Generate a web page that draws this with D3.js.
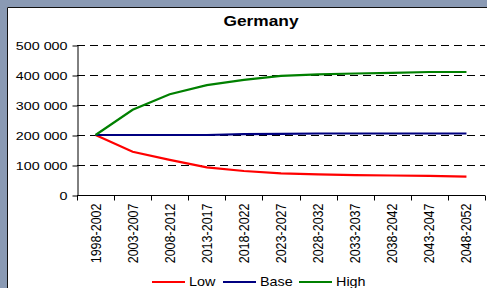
<!DOCTYPE html>
<html>
<head>
<meta charset="utf-8">
<script src="https://cdn.jsdelivr.net/npm/d3@7"></script>
<style>
  body { margin: 0; background: #8a9ab4; }
  svg { display: block; font-family: "Liberation Sans", Arial, sans-serif; }
</style>
</head>
<body>
<div id="chart"></div>
<script>
// periods on the x axis
var periods = ["1998-2002", "2003-2007", "2008-2012", "2013-2017", "2018-2022", "2023-2027",
    "2028-2032", "2033-2037", "2038-2042", "2043-2047", "2048-2052"];
var lowValues = [200000, 144000, 117000, 92000, 80000, 72000, 69000, 66000, 65000, 64000, 61000];
var baseValues = [200000, 200000, 200000, 200000, 203000, 204000, 205000, 205000, 205000, 205000, 205000];
var highValues = [200000, 284000, 336000, 366000, 384000, 397000, 402000, 405000, 407000, 410000, 410000];
var yTicks = [0, 100000, 200000, 300000, 400000, 500000];
var seriesNames = ["Low", "Base", "High"];
var seriesColors = ["#ff0000", "#000080", "#008000"];

var width = 487, height = 288;
var margin = { top: 45, right: 2, bottom: 93, left: 77 };
// the original picture is stretched sideways, so is its text
var stretch = 1.3;

var svg = d3.select("#chart").append("svg")
    .attr("width", width)
    .attr("height", height);

// white panel with dark top/left edge
svg.append("rect").attr("x", 7).attr("y", 7)
    .attr("width", width).attr("height", height)
    .attr("fill", "#ffffff");
svg.append("path").attr("d", "M7.5," + height + "V7.5H" + width)
    .attr("fill", "none").attr("stroke", "#111").attr("stroke-width", 1);

var xScale = d3.scaleBand().domain(periods)
    .range([margin.left, width - margin.right]).padding(0);
var yScale = d3.scaleLinear().domain([0, 500000])
    .range([height - margin.bottom, margin.top]);

var fmt = function (d) { return d3.format(",")(d).replace(/,/g, " "); };

// dashed grid lines
svg.append("g").selectAll("line")
    .data(yTicks.filter(function (d) { return d > 0; }))
    .enter().append("line")
    .attr("x1", margin.left).attr("x2", width - margin.right)
    .attr("y1", function (d) { return Math.round(yScale(d)) + 0.5; })
    .attr("y2", function (d) { return Math.round(yScale(d)) + 0.5; })
    .attr("stroke", "#000").attr("stroke-width", 1)
    .attr("stroke-dasharray", "8,5");

var yAxis = d3.axisLeft(yScale).tickValues(yTicks).tickFormat(fmt).tickSize(5).tickSizeOuter(0);
var yG = svg.append("g")
    .attr("transform", "translate(" + (margin.left + 0.5) + ",0.5)")
    .call(yAxis);
yG.selectAll("text")
    .attr("font-size", 11).attr("fill", "#000")
    .attr("font-family", "Liberation Sans, Arial, sans-serif")
    .attr("x", -10 / stretch)
    .attr("transform", "scale(" + stretch + ",1)");
yG.selectAll("line, path").attr("stroke", "#000");

// x axis: ticks at band edges
var xG = svg.append("g").attr("transform", "translate(0," + (yScale(0) + 0.5) + ")");
xG.append("line").attr("x1", margin.left).attr("x2", width - margin.right)
    .attr("stroke", "#000");
xG.selectAll(".tk").data(periods.concat(["end"])).enter().append("line")
    .attr("class", "tk")
    .attr("x1", function (d, i) { return Math.round(margin.left + i * xScale.bandwidth()) + 0.5; })
    .attr("x2", function (d, i) { return Math.round(margin.left + i * xScale.bandwidth()) + 0.5; })
    .attr("y1", 0).attr("y2", 5).attr("stroke", "#000");
xG.selectAll("text").data(periods).enter().append("text")
    .attr("transform", function (d) {
        return "translate(" + (xScale(d) + xScale.bandwidth() / 2) + ",8) rotate(-90) scale(1,1.15)";
    })
    .attr("text-anchor", "end").attr("dy", "0.35em")
    .attr("font-size", 12.5).attr("fill", "#000")
    .text(function (d) { return d; });

// lines
var line = d3.line()
    .x(function (d, i) { return xScale(periods[i]) + xScale.bandwidth() / 2; })
    .y(function (d) { return yScale(d); });
[lowValues, baseValues, highValues].forEach(function (vals, k) {
    svg.append("path").datum(vals)
        .attr("d", line)
        .attr("fill", "none")
        .attr("stroke", seriesColors[k])
        .attr("stroke-width", 2.2);
});

// title
svg.append("text")
    .attr("transform", "translate(261,26) scale(1.24,1)")
    .attr("text-anchor", "middle").attr("font-size", 14).attr("font-weight", "bold")
    .text("Germany");

// legend
var legendX = [152, 223, 299];
var lg = svg.append("g").attr("transform", "translate(0,282)");
seriesNames.forEach(function (name, k) {
    lg.append("line").attr("x1", legendX[k]).attr("x2", legendX[k] + 33)
        .attr("stroke", seriesColors[k]).attr("stroke-width", 2.2);
    lg.append("text")
        .attr("transform", "translate(" + (legendX[k] + 37) + ",0) scale(1.15,1)")
        .attr("dy", "0.35em")
        .attr("font-size", 12.5).text(name);
});
</script>
</body>
</html>
